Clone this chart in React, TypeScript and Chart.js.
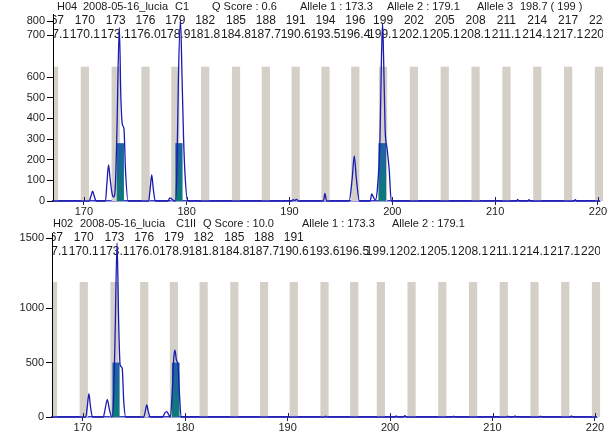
import React, { useEffect, useRef } from 'react';
import { Chart, registerables } from 'chart.js';
Chart.register(...registerables);

const FONT = '"Liberation Sans", Arial, sans-serif';
const X_MIN = 167;
const X_MAX = 220.2;
const xTicks = [170, 180, 190, 200, 210, 220];

// ---------- Panel 1 (H04) ----------
const p1Header = ['H04', '2008-05-16_lucia', 'C1', 'Q Score : 0.6', 'Allele 1 : 173.3', 'Allele 2 : 179.1', 'Allele 3', '198.7 ( 199 )'];
const p1BinLabels = ['167', '170', '173', '176', '179', '182', '185', '188', '191', '194', '196', '199', '202', '205', '208', '211', '214', '217', '220'];
const p1BinCenters = [167.1, 170.1, 173.1, 176.0, 178.9, 181.8, 184.8, 187.7, 190.6, 193.5, 196.4, 199.1, 202.1, 205.1, 208.1, 211.1, 214.1, 217.1, 220.1];
const p1BinTop = 650;
const p1AlleleStart = [173.2, 178.9, 198.65];
const p1AlleleEnd = [173.9, 179.6, 199.4];
const p1AlleleHeight = [280, 280, 280];
const p1YTicks = [0, 100, 200, 300, 400, 500, 600];
const p1ExtraYLabels = ['800', '700'];
const p1TraceX = [167.0, 170.5, 170.7, 170.85, 171.0, 171.2, 172.1, 172.25, 172.4, 172.55, 172.75, 172.9, 173.05, 173.2, 173.45, 173.6, 173.75, 173.9, 174.05, 174.3,
  176.3, 176.45, 176.6, 176.75, 176.95, 178.2, 178.35, 178.5, 178.7, 178.9, 179.05, 179.2, 179.4, 179.55, 179.7, 179.85, 180.1,
  190.2, 190.35, 190.5, 190.7, 190.85, 193.3, 193.45, 193.6, 195.8, 196.1, 196.3, 196.5, 196.8, 197.85, 198.0, 198.15, 198.35,
  198.55, 198.8, 198.95, 199.05, 199.15, 199.3, 199.5, 199.7, 199.9, 212.1, 212.2, 212.3, 213.2, 213.3, 213.4, 217.7, 217.8, 217.9, 220.2];
const p1TraceY = [0, 0, 25, 48, 25, 0, 0, 90, 175, 110, 35, 20, 60, 300, 840, 500, 370, 350, 150, 0,
  0, 60, 126, 60, 0, 0, 15, 12, 3, 0, 150, 600, 875, 600, 300, 120, 0,
  0, 6, 3, 8, 0, 0, 37, 0, 0, 110, 218, 110, 0, 0, 34, 20, 5,
  60, 300, 700, 860, 700, 350, 250, 150, 0, 0, 8, 0, 0, 6, 0, 0, 7, 0, 0];

// ---------- Panel 2 (H02) ----------
const p2Header = ['H02', '2008-05-16_lucia', 'C1II', 'Q Score : 10.0', 'Allele 1 : 173.3', 'Allele 2 : 179.1'];
const p2BinLabels = ['167', '170', '173', '176', '179', '182', '185', '188', '191'];
const p2BinCenters = [167.1, 170.1, 173.1, 176.0, 178.9, 181.8, 184.8, 187.7, 190.6, 193.6, 196.5, 199.1, 202.1, 205.1, 208.1, 211.1, 214.1, 217.1, 220.1];
const p2BinTop = 1240;
const p2AlleleStart = [172.9, 178.7];
const p2AlleleEnd = [173.6, 179.45];
const p2AlleleHeight = [500, 500];
const p2YTicks = [0, 500, 1000];
const p2ExtraYLabels = ['1500'];
const p2TraceX = [167.0, 170.3, 170.45, 170.6, 170.75, 170.95, 172.0, 172.2, 172.4, 172.6, 172.85, 173.0, 173.15, 173.35, 173.5, 173.65, 173.85, 174.0, 174.2,
  175.95, 176.1, 176.25, 176.4, 176.6, 177.8, 178.0, 178.2, 178.4, 178.55, 178.75, 178.9, 179.0, 179.15, 179.3, 179.45, 179.6,
  193.6, 193.7, 193.8, 200.5, 200.6, 200.7, 201.3, 201.45, 201.6, 206.1, 206.2, 206.3, 211.4, 211.5, 211.6, 212.1, 212.2, 212.3,
  214.6, 214.7, 214.8, 217.6, 217.7, 217.8, 220.2];
const p2TraceY = [0, 0, 100, 215, 100, 0, 0, 80, 160, 70, 0, 150, 700, 1600, 900, 480, 450, 150, 0,
  0, 50, 110, 50, 0, 0, 35, 50, 20, 0, 250, 560, 615, 520, 480, 200, 0,
  0, 8, 0, 0, 10, 0, 0, 12, 0, 0, 8, 0, 0, 8, 0, 0, 10, 0,
  0, 8, 0, 0, 10, 0, 0];

// ---------- layout (pixels) ----------
const L1 = { height: 216, top: 14, right: 9, yWidth: 53, xHeight: 15, yMax: 905, rows: [7, 21, 35], headerX: [57, 83, 175, 212, 300, 387, 477, 520] };
const L2 = { height: 217, top: 17, right: 12, yWidth: 52, xHeight: 16, yMax: 1690, rows: [8, 22, 36], headerX: [53, 80, 176, 203, 302, 392] };

const GRAY = '#d4d0c8';
const TRACE = '#1a1ab0';
const AXIS_BLUE = '#3c3cc8';

type Panel = {
  header: string[]; binLabels: string[]; binCenters: number[]; binTop: number;
  aStart: number[]; aEnd: number[]; aHeight: number[]; yTicks: number[]; extra: string[];
  tx: number[]; ty: number[]; L: typeof L1;
};

function makePlugin(p: Panel) {
  return {
    id: 'panelDecor',
    beforeDatasetsDraw(chart: any) {
      const { ctx, chartArea: ca, scales } = chart;
      const x = scales.x, y = scales.y;
      const y0 = y.getPixelForValue(0);
      ctx.save();
      ctx.beginPath();
      ctx.rect(ca.left + 1, ca.top, ca.right - ca.left + 3, ca.bottom - ca.top);
      ctx.clip();
      // bins
      ctx.fillStyle = GRAY;
      const yb = y.getPixelForValue(p.binTop);
      p.binCenters.forEach((c) => {
        const a = x.getPixelForValue(c - 0.4);
        const b = x.getPixelForValue(c + 0.4);
        ctx.fillRect(a, yb, b - a, y0 - yb);
      });
      // allele bars
      p.aStart.forEach((s, i) => {
        const a = x.getPixelForValue(s);
        const b = x.getPixelForValue(p.aEnd[i]);
        const t = y.getPixelForValue(p.aHeight[i]);
        const g = ctx.createLinearGradient(0, t, 0, y0);
        g.addColorStop(0, '#2060a8');
        g.addColorStop(1, '#0c7c76');
        ctx.fillStyle = g;
        ctx.fillRect(a, t, b - a, y0 - t);
      });
      ctx.restore();

      // text rows
      ctx.save();
      ctx.fillStyle = '#1a1a1a';
      ctx.textBaseline = 'middle';
      ctx.font = '11px ' + FONT;
      ctx.textAlign = 'left';
      p.header.forEach((t, i) => ctx.fillText(t, p.L.headerX[i], p.L.rows[0]));
      ctx.textAlign = 'right';
      ctx.strokeStyle = '#000';
      ctx.lineWidth = 1;
      p.extra.forEach((t, i) => {
        const ry = p.L.rows[i + 1];
        ctx.fillText(t, ca.left - 8, ry);
        ctx.beginPath();
        ctx.moveTo(ca.left - 6, Math.round(ry) + 0.5);
        ctx.lineTo(ca.left, Math.round(ry) + 0.5);
        ctx.stroke();
      });
      ctx.beginPath();
      ctx.rect(ca.left + 1, 0, ca.right - ca.left + 2, ca.top + 40);
      ctx.clip();
      ctx.textAlign = 'center';
      ctx.font = '12px ' + FONT;
      p.binLabels.forEach((t, i) => ctx.fillText(t, x.getPixelForValue(p.binCenters[i]), p.L.rows[1]));
      p.binCenters.forEach((c) => ctx.fillText(c.toFixed(1), x.getPixelForValue(c), p.L.rows[2]));
      ctx.restore();
    },
    afterDatasetsDraw(chart: any) {
      const { ctx, chartArea: ca, scales } = chart;
      const x = scales.x;
      ctx.save();
      ctx.strokeStyle = '#202060';
      ctx.lineWidth = 1;
      xTicks.forEach((v) => {
        const px = Math.round(x.getPixelForValue(v)) + 0.5;
        ctx.beginPath();
        ctx.moveTo(px, ca.bottom - 4);
        ctx.lineTo(px, ca.bottom);
        ctx.stroke();
      });
      ctx.restore();
    },
  };
}

function PanelChart({ p }: { p: Panel }) {
  const ref = useRef<HTMLCanvasElement>(null);
  useEffect(() => {
    const L = p.L;
    const chart = new Chart(ref.current as HTMLCanvasElement, {
      type: 'line',
      data: {
        datasets: [{
          data: p.tx.map((v, i) => ({ x: v, y: p.ty[i] })),
          borderColor: TRACE,
          borderWidth: 1.3,
          pointRadius: 0,
          fill: false,
          cubicInterpolationMode: 'monotone',
          clip: 4,
        } as any],
      },
      options: {
        responsive: false,
        animation: false,
        devicePixelRatio: 1,
        layout: { padding: { top: L.top, right: L.right, left: 0, bottom: 0 } },
        plugins: { legend: { display: false }, tooltip: { enabled: false } },
        scales: {
          x: {
            type: 'linear', min: X_MIN, max: X_MAX,
            afterBuildTicks: (s: any) => { s.ticks = xTicks.map((v) => ({ value: v })); },
            afterFit: (s: any) => { s.height = L.xHeight; },
            grid: { drawOnChartArea: false, tickLength: 4, color: '#202060' },
            border: { color: AXIS_BLUE, width: 1.5 },
            ticks: { font: { size: 11, family: FONT }, color: '#222', padding: 0, maxRotation: 0, autoSkip: false, callback: (v: any) => String(v) },
          },
          y: {
            type: 'linear', min: 0, max: L.yMax,
            afterBuildTicks: (s: any) => { s.ticks = p.yTicks.map((v) => ({ value: v })); },
            afterFit: (s: any) => { s.width = L.yWidth; },
            grid: { drawOnChartArea: false, tickLength: 6, color: '#000' },
            border: { color: '#000', width: 1 },
            ticks: { font: { size: 11, family: FONT }, color: '#222', padding: 2, autoSkip: false, callback: (v: any) => String(v) },
          },
        },
      } as any,
      plugins: [makePlugin(p)],
    });
    return () => chart.destroy();
  }, []);
  return <canvas ref={ref} width={609} height={p.L.height} style={{ display: 'block' }} />;
}

const panel1: Panel = { header: p1Header, binLabels: p1BinLabels, binCenters: p1BinCenters, binTop: p1BinTop, aStart: p1AlleleStart, aEnd: p1AlleleEnd, aHeight: p1AlleleHeight, yTicks: p1YTicks, extra: p1ExtraYLabels, tx: p1TraceX, ty: p1TraceY, L: L1 };
const panel2: Panel = { header: p2Header, binLabels: p2BinLabels, binCenters: p2BinCenters, binTop: p2BinTop, aStart: p2AlleleStart, aEnd: p2AlleleEnd, aHeight: p2AlleleHeight, yTicks: p2YTicks, extra: p2ExtraYLabels, tx: p2TraceX, ty: p2TraceY, L: L2 };

export default function App() {
  return (
    <div style={{ position: 'absolute', left: 0, top: 0, width: 609, height: 433, background: '#fff' }}>
      <PanelChart p={panel1} />
      <PanelChart p={panel2} />
    </div>
  );
}
